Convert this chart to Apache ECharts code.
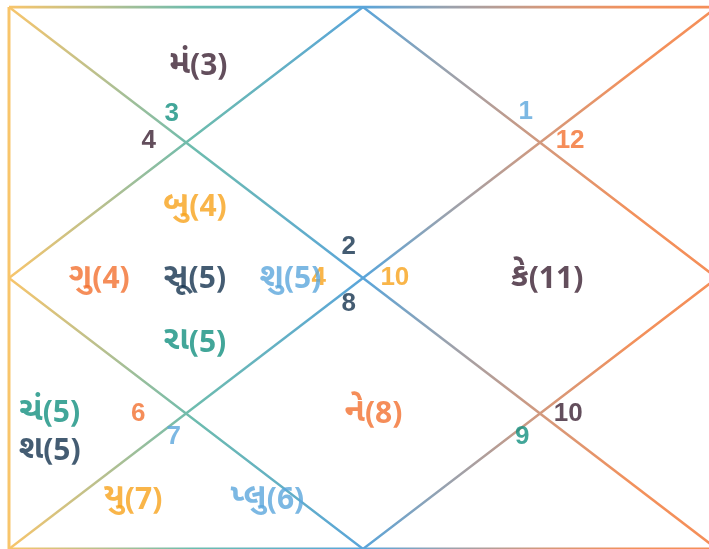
<!DOCTYPE html>
<html>
  <head>
    <meta charset="utf-8" />
    <title>Kundli</title>
    <script src="https://cdn.jsdelivr.net/npm/echarts@6/dist/echarts.min.js"></script>
    <style>
      html, body { margin: 0; padding: 0; background: #fff; }
    </style>
  </head>
  <body>
    <div id="chart" style="width: 709px; height: 549px"></div>

    <script type="text/javascript">
/// Data

// Sign number written in each house, houses 1..12.
const house_signs = [2, 3, 4, 4, 6, 7, 8, 9, 10, 10, 12, 1];

// Planets, in the order they are laid out inside their house.
const planet_names = ['મં', 'બુ', 'ગુ', 'સૂ', 'શુ', 'રા', 'ચં', 'શ', 'યુ', 'પ્લુ', 'ને', 'કે'];
const planet_signs = [3, 4, 4, 5, 5, 5, 5, 5, 7, 6, 8, 11];
const planet_houses = [2, 4, 4, 4, 4, 4, 5, 5, 6, 6, 7, 10];

// Chart frame in a 4x4 box: outer rectangle, two diagonals, inner diamond.
const frame_outer = [[0, 0], [4, 0], [4, 4], [0, 4], [0, 0]];
const frame_diag_a = [[0, 0], [4, 4]];
const frame_diag_b = [[4, 0], [0, 4]];
const frame_diamond = [[2, 0], [4, 2], [2, 4], [0, 2], [2, 0]];

/// Layout / style

// navy, teal, plum, amber, orange, sky
const palette = ['#15334f', '#139080', '#3c2233', '#f7a21b', '#f2702f', '#5ba6dc'];

// Colour per planet (traditional order Su Mo Ma Me Ju Ve Sa Ra Ke Ur Ne Pl).
const planet_color_order = ['સૂ', 'ચં', 'મં', 'બુ', 'ગુ', 'શુ', 'શ', 'રા', 'કે', 'યુ', 'ને', 'પ્લુ'];

// Where the planets of each house are anchored, and the kind of house.
const house_anchor = {
  1: [2.05, 1.0], 2: [1.07, 0.44], 3: [0.28, 1.0], 4: [1.05, 2.01],
  5: [0.23, 3.0], 6: [1.08, 3.64], 7: [2.06, 3.01], 8: [3.08, 3.64],
  9: [3.72, 3.0], 10: [3.04, 2.01], 11: [3.72, 1.0], 12: [3.07, 0.44]
};
const house_kind = {
  1: 'diamond', 4: 'diamond', 7: 'diamond', 10: 'diamond',
  2: 'flat', 6: 'flat', 8: 'flat', 12: 'flat',
  3: 'side', 5: 'side', 9: 'side', 11: 'side'
};

// Sign numbers sit next to the inner corner of each house.
const sign_anchor = {
  1: [1.92, 1.77], 2: [0.92, 0.79], 3: [0.79, 0.99], 4: [1.75, 2.0],
  5: [0.73, 3.0], 6: [0.93, 3.17], 7: [1.92, 2.19], 8: [2.9, 3.17],
  9: [3.16, 3.0], 10: [2.18, 2.0], 11: [3.17, 0.99], 12: [2.92, 0.77]
};

function slotOffsets(kind, n) {
  if (kind === 'diamond') {
    if (n === 1) return [[0, 0]];
    const cross = [[0, -0.53], [-0.54, 0], [0, 0], [0.54, 0], [0, 0.47]];
    return cross.slice(0, n);
  }
  const out = [];
  for (let i = 0; i < n; i++) {
    if (kind === 'side') {
      out.push([0, i * 0.28]);
    } else {
      out.push([(i - (n - 1) / 2) * 0.76, 0]);
    }
  }
  return out;
}

window.onload = function() {
  const by_house = {};
  planet_names.forEach(function(name, i) {
    const h = planet_houses[i];
    if (!by_house[h]) by_house[h] = [];
    by_house[h].push(i);
  });

  const planet_points = [];
  for (const h in by_house) {
    const list = by_house[h];
    const offs = slotOffsets(house_kind[h], list.length);
    list.forEach(function(i, k) {
      const a = house_anchor[h];
      const color = palette[planet_color_order.indexOf(planet_names[i]) % 6];
      planet_points.push({
        value: [a[0] + offs[k][0], a[1] + offs[k][1]],
        name: planet_names[i],
        sign: planet_signs[i],
        label: {
          rich: {
            g: { color: color, fontFamily: '"Noto Sans Gujarati", "Noto Sans", sans-serif', fontWeight: 'bold', fontSize: 33 },
            n: { color: color, fontFamily: '"Noto Sans", sans-serif', fontWeight: 'bold', fontSize: 30 }
          }
        }
      });
    });
  }

  const sign_points = house_signs.map(function(s, idx) {
    const h = idx + 1;
    return {
      value: sign_anchor[h],
      name: String(s),
      label: { color: palette[idx % 6] }
    };
  });

  const gradient = new echarts.graphic.LinearGradient(9, 0, 717, 0, [
    { offset: 0, color: '#f8c56b' },
    { offset: 0.13, color: '#b9c08e' },
    { offset: 0.26, color: '#6dbcae' },
    { offset: 0.5, color: '#5aa5da' },
    { offset: 0.62, color: '#9aa2ae' },
    { offset: 0.76, color: '#d6987a' },
    { offset: 0.88, color: '#f2915c' },
    { offset: 1, color: '#f58e58' }
  ], true);

  function frameLine(data, width) {
    return {
      type: 'line',
      data: data,
      symbol: 'none',
      silent: true,
      z: 1,
      lineStyle: { color: gradient, width: width }
    };
  }

  const option = {
    animation: false,
    grid: { left: 9, top: 7, right: -8, bottom: 0, outerBoundsMode: 'none' },
    xAxis: { type: 'value', min: 0, max: 4, show: false },
    yAxis: { type: 'value', min: 0, max: 4, inverse: true, show: false },
    series: [
      frameLine(frame_outer, 3),
      frameLine(frame_diag_a, 2.4),
      frameLine(frame_diag_b, 2.4),
      frameLine(frame_diamond, 2.4),
      {
        type: 'scatter',
        data: sign_points,
        symbolSize: 0,
        silent: true,
        z: 3,
        label: {
          show: true,
          position: 'inside',
          formatter: '{b}',
          fontFamily: '"Liberation Sans", Arial, sans-serif',
          fontWeight: 'bold',
          fontSize: 26
        }
      },
      {
        type: 'scatter',
        data: planet_points,
        symbolSize: 0,
        silent: true,
        z: 4,
        label: {
          show: true,
          position: 'inside',
          formatter: function(p) {
            return '{g|' + p.name + '}{n|(' + p.data.sign + ')}';
          }
        }
      }
    ]
  };

  const chart = echarts.init(document.getElementById('chart'));
  chart.setOption(option);
};
    </script>
  </body>
</html>
